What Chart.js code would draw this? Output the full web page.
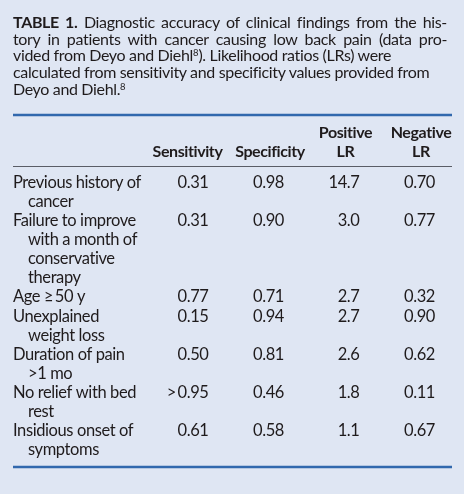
<!DOCTYPE html>
<html>
<head>
<meta charset="utf-8">
<script src="https://cdn.jsdelivr.net/npm/chart.js@4"></script>
<style>
  body { margin:0; background:#dfe6f3; }
  #wrap { position:relative; width:464px; height:494px; }
  #table { position:absolute; left:0; top:0; display:block; }
  #caption { position:absolute; left:13px; top:14px; width:434px; z-index:2;
    font-family:Lato, sans-serif; font-size:16px; line-height:16.65px; letter-spacing:-0.34px; color:#1f1b1c; }
  #caption div { white-space:nowrap; }
  #caption .j { text-align:justify; text-align-last:justify; }
  #caption b { font-weight:bold; }
  #caption sup { font-size:9.5px; line-height:0; vertical-align:5.5px; letter-spacing:0; }
</style>
</head>
<body>
<div id="wrap">
  <div id="caption">
    <div class="j"><b>TABLE 1.</b> Diagnostic accuracy of clinical findings from the his-</div>
    <div class="j">tory in patients with cancer causing low back pain (data pro-</div>
    <div>vided from Deyo and Diehl<sup>8</sup>). Likelihood ratios (LRs) were</div>
    <div>calculated from sensitivity and specificity values provided from</div>
    <div>Deyo and Diehl.<sup>8</sup></div>
  </div>
  <canvas id="table" width="464" height="494"></canvas>
</div>
<script>
// table data
var findings = [
  ["Previous history of", "cancer"],
  ["Failure to improve", "with a month of", "conservative", "therapy"],
  ["Age \u2265\u200950 y"],
  ["Unexplained", "weight loss"],
  ["Duration of pain", ">1 mo"],
  ["No relief with bed", "rest"],
  ["Insidious onset of", "symptoms"]
];
var sensitivity = [0.31, 0.31, 0.77, 0.15, 0.50, 0.95, 0.61];
var sensitivityPrefix = ["", "", "", "", "", ">\u2009", ""];
var specificity = [0.98, 0.90, 0.71, 0.94, 0.81, 0.46, 0.58];
var positiveLR = [14.7, 3.0, 2.7, 2.7, 2.6, 1.8, 1.1];
var negativeLR = [0.70, 0.77, 0.32, 0.90, 0.62, 0.11, 0.67];
var columnHeaders = [["Sensitivity"], ["Specificity"], ["Positive", "LR"], ["Negative", "LR"]];

// first text line of every row (rows take as many lines as their label)
var rowStart = [];
var line = 0;
findings.forEach(function(f) { rowStart.push(line); line += f.length; });

var columns = [
  { values: sensitivity, fmt: function(v, i) { return sensitivityPrefix[i] + v.toFixed(2); } },
  { values: specificity, fmt: function(v) { return v.toFixed(2); } },
  { values: positiveLR, fmt: function(v) { return v.toFixed(1); } },
  { values: negativeLR, fmt: function(v) { return v.toFixed(2); } }
];

var ink = "#1f1b1c";
var bodyFont = "16.5px Lato";
var headFont = "bold 16px Lato";
var headerShift = [-21, -14, -14, -14]; // header centre relative to the value column

// draws rules, headers, labels and cell texts at the scale positions
var tablePlugin = {
  id: "tableText",
  afterDraw: function(chart) {
    var ctx = chart.ctx, x = chart.scales.x, y = chart.scales.y;
    var left = chart.chartArea.left, right = chart.chartArea.right;
    ctx.save();

    // rules
    ctx.strokeStyle = "#3168ad";
    ctx.lineWidth = 2.5;
    [y.min, y.max].forEach(function(v) {
      var py = y.getPixelForValue(v);
      ctx.beginPath(); ctx.moveTo(left, py); ctx.lineTo(right, py); ctx.stroke();
    });
    ctx.strokeStyle = "#5a5d66";
    ctx.lineWidth = 1;
    var gy = Math.round(y.getPixelForValue(-1.16)) + 0.5;
    ctx.beginPath(); ctx.moveTo(left, gy); ctx.lineTo(right, gy); ctx.stroke();

    ctx.fillStyle = ink;
    ctx.textBaseline = "alphabetic";
    ctx.letterSpacing = "-0.4px";

    // column headers, bottom-aligned on the two header lines
    ctx.font = headFont;
    ctx.textAlign = "center";
    columnHeaders.forEach(function(h, c) {
      var cx = x.getPixelForValue(c + 1) + headerShift[c];
      h.forEach(function(t, k) {
        var v = -1.63 - (h.length - 1 - k);
        ctx.fillText(t, cx, y.getPixelForValue(v));
      });
    });

    // finding labels with hanging indent
    ctx.font = bodyFont;
    ctx.textAlign = "left";
    findings.forEach(function(f, i) {
      f.forEach(function(t, k) {
        ctx.fillText(t, left + (k > 0 ? 15 : 0), y.getPixelForValue(rowStart[i] + k));
      });
    });

    // cell values, right aligned on the data points
    ctx.textAlign = "right";
    columns.forEach(function(col, c) {
      var meta = chart.getDatasetMeta(c);
      meta.data.forEach(function(pt, i) {
        ctx.fillText(col.fmt(col.values[i], i), pt.x, pt.y);
      });
    });
    ctx.restore();
  }
};

var config = {
  type: "scatter",
  data: {
    datasets: columns.map(function(col, c) {
      return {
        label: columnHeaders[c].join(" "),
        data: col.values.map(function(v, i) { return { x: c + 1, y: rowStart[i] }; }),
        pointRadius: 0
      };
    })
  },
  options: {
    responsive: false,
    animation: false,
    events: [],
    layout: { padding: { left: 13, right: 12, top: 115, bottom: 27 } },
    plugins: { legend: { display: false }, tooltip: { enabled: false } },
    scales: {
      x: { type: "linear", min: -1.5894, max: 4.2252, display: false },
      y: { type: "linear", reverse: true, min: -3.83, max: 14.63, display: false }
    }
  },
  plugins: [tablePlugin]
};

var tableChart = new Chart(document.getElementById("table"), config);
</script>
</body>
</html>
